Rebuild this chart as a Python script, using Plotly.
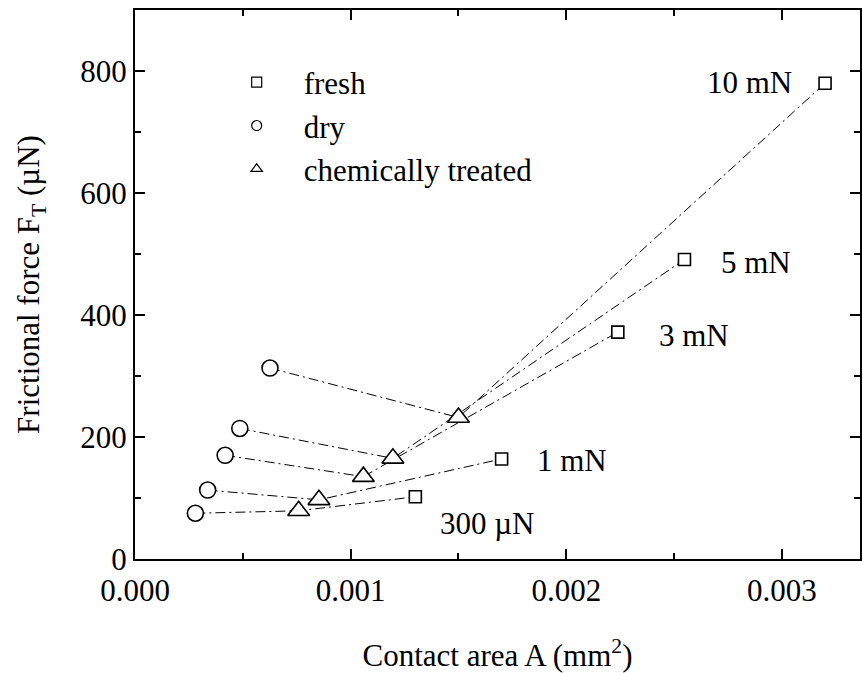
import plotly.graph_objects as go

# Data
loads = ["300 µN", "1 mN", "3 mN", "5 mN", "10 mN"]
dry_x = [0.000280, 0.000337, 0.000418, 0.000486, 0.000626]
dry_y = [75, 113, 170, 214, 313]
treated_x = [0.000759, 0.000853, 0.001059, 0.001196, 0.001500]
treated_y = [79, 97, 135, 165, 232]
fresh_x = [0.001300, 0.001700, 0.002239, 0.002548, 0.003200]
fresh_y = [102, 164, 372, 491, 780]

FONT = "Liberation Serif"
FS = 31

fig = go.Figure()

# connecting dash-dot lines (dry -> treated -> fresh for each load)
for i in range(len(loads)):
    fig.add_trace(go.Scatter(
        x=[dry_x[i], treated_x[i], fresh_x[i]],
        y=[dry_y[i], treated_y[i], fresh_y[i]],
        mode="lines", line=dict(color="black", width=1, dash="10px,4px,2px,4px"),
        showlegend=False, hoverinfo="skip"))

mk_line = dict(color="black", width=1.6)
fig.add_trace(go.Scatter(x=fresh_x, y=fresh_y, mode="markers", showlegend=False,
                         marker=dict(symbol="square", size=12, color="white", line=mk_line)))
fig.add_trace(go.Scatter(x=dry_x, y=dry_y, mode="markers", showlegend=False,
                         marker=dict(symbol="circle", size=16, color="white", line=mk_line)))
fig.add_trace(go.Scatter(x=treated_x, y=treated_y, mode="markers", showlegend=False,
                         marker=dict(symbol="triangle-up", size=19, color="white", line=mk_line)))

# legend entries
for name, sym, g in [("fresh", "square", "a"), ("dry", "circle", "b"), ("chemically treated", "triangle-up", "c")]:
    fig.add_trace(go.Scatter(x=[None], y=[None], mode="markers", name=name, legendgroup=g,
                             marker=dict(symbol=sym, size=10, color="white",
                                         line=dict(color="black", width=1.2))))

# load labels (pixel offsets from the fresh point: right, up)
offsets = [(72, -27), (70, -2), (76, -3), (72, -3), (-76, 1)]
for i, lab in enumerate(loads):
    dx, dy = offsets[i]
    fig.add_annotation(x=fresh_x[i], y=fresh_y[i], text=lab, showarrow=False,
                       xshift=dx, yshift=dy, font=dict(family=FONT, size=FS, color="black"))

axis_common = dict(showline=True, linecolor="black", linewidth=2, mirror="ticks",
                   ticks="inside", ticklen=10, tickwidth=2, tickcolor="black",
                   showgrid=False, zeroline=False,
                   tickfont=dict(family=FONT, size=FS, color="black"))

fig.update_xaxes(range=[0, 0.003362], tickvals=[0, 0.001, 0.002, 0.003],
                 ticktext=["0.000", "0.001", "0.002", "0.003"], ticklabelstandoff=3,
                 minor=dict(ticks="inside", ticklen=6, tickwidth=2, tickcolor="black",
                            tickvals=[0.0005, 0.0015, 0.0025]),
                 title=dict(text="Contact area A (mm<sup>2</sup>)", standoff=40,
                            font=dict(family=FONT, size=FS, color="black")),
                 **axis_common)
fig.update_yaxes(range=[0, 900], tickvals=[0, 200, 400, 600, 800],
                 minor=dict(ticks="inside", ticklen=6, tickwidth=2, tickcolor="black",
                            tickvals=[100, 300, 500, 700]),
                 title=dict(text="Frictional force F<sub>T</sub> (µN)", standoff=31,
                            font=dict(family=FONT, size=FS, color="black")),
                 **axis_common)

fig.update_layout(
    width=862, height=673, autosize=False,
    margin=dict(l=135, r=0, t=10, b=114),
    plot_bgcolor="white", paper_bgcolor="white",
    legend=dict(x=0.103, y=0.917, xanchor="left", yanchor="top", bgcolor="rgba(0,0,0,0)",
                font=dict(family=FONT, size=FS, color="black"), itemwidth=84,
                traceorder="grouped", tracegroupgap=0),
)

fig.write_html("out.html")
